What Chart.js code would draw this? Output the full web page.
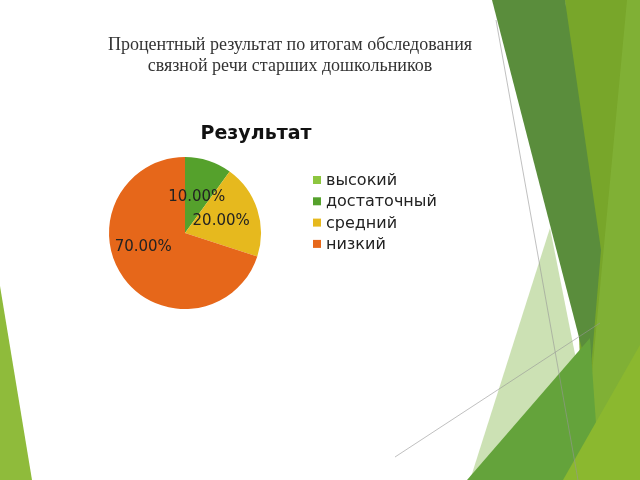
<!DOCTYPE html>
<html lang="ru">
<head>
<meta charset="utf-8">
<script src="https://cdn.jsdelivr.net/npm/chart.js@4/dist/chart.umd.min.js"></script>
<style>
  html, body { margin: 0; padding: 0; background: #fff; }
  #wrap { position: relative; width: 640px; height: 480px; overflow: hidden; }
  #slideTitle {
    position: absolute; left: 0; top: 34px; width: 580px; text-align: center;
    font-family: "Liberation Serif", serif; font-size: 18px; line-height: 21px; color: #333;
  }
</style>
</head>
<body>
<div id="wrap">
  <canvas id="myChart" width="640" height="480"></canvas>
  <div id="slideTitle">Процентный результат по итогам обследования<br>связной речи старших дошкольников</div>
</div>
<script>
// chart data
const categories = ['высокий', 'достаточный', 'средний', 'низкий'];
const values = [0, 10, 20, 70];
const valueLabels = ['', '10.00%', '20.00%', '70.00%'];
const sliceColors = ['#8dc63f', '#55a12c', '#e6b91e', '#e6671a'];
const chartTitle = 'Результат';

// green facets of the slide background (just decoration)
const slideBg = {
    id: 'slideBg',
    beforeDraw(c) {
        const ctx = c.ctx;
        const poly = (pts, col) => {
            ctx.beginPath();
            ctx.moveTo(pts[0][0], pts[0][1]);
            for (let i = 1; i < pts.length; i++) ctx.lineTo(pts[i][0], pts[i][1]);
            ctx.closePath();
            ctx.fillStyle = col;
            ctx.fill();
        };
        ctx.save();
        ctx.fillStyle = '#fff';
        ctx.fillRect(0, 0, 640, 480);
        // olive right strip
        poly([[565, 0], [640, 0], [640, 480], [585, 480]], '#78a62a');
        // lighter strip far right
        poly([[627, 0], [640, 0], [640, 480], [582, 480]], 'rgba(150,200,80,0.3)');
        // pale facet
        poly([[550, 228], [598, 470], [470, 480]], 'rgba(170,205,130,0.6)');
        // dark band
        poly([[492, 0], [565, 0], [601, 250], [590, 380]], '#5a8d3c');
        // mid green bottom
        poly([[467, 480], [590, 338], [600, 480]], '#64a33b');
        // lime bottom right
        poly([[640, 345], [640, 480], [563, 480]], '#8bb82f');
        // left triangle
        poly([[0, 286], [32, 480], [0, 480]], '#8fbb3b');
        // thin grey lines
        ctx.strokeStyle = 'rgba(150,150,150,0.6)';
        ctx.lineWidth = 1;
        ctx.beginPath();
        ctx.moveTo(496, 20); ctx.lineTo(578, 480);
        ctx.moveTo(395, 457); ctx.lineTo(600, 323);
        ctx.stroke();
        ctx.restore();
    }
};

// title, legend and percent labels
const extras = {
    id: 'extras',
    afterDraw(c) {
        const ctx = c.ctx;
        ctx.save();
        ctx.fillStyle = '#111';
        ctx.textAlign = 'center';
        ctx.textBaseline = 'middle';
        ctx.font = 'bold 19px "DejaVu Sans"';
        ctx.fillText(chartTitle, 256, 134);

        // legend
        ctx.font = '16px "DejaVu Sans"';
        ctx.textAlign = 'left';
        categories.forEach((name, i) => {
            const y = 180 + i * 21.3;
            ctx.fillStyle = sliceColors[i];
            ctx.fillRect(313, y - 4, 8, 8);
            ctx.fillStyle = '#222';
            ctx.fillText(name, 326, y + 1);
        });

        // percent labels near the middle of each slice
        ctx.font = '15px "DejaVu Sans"';
        ctx.textAlign = 'center';
        const meta = c.getDatasetMeta(0);
        meta.data.forEach((arc, i) => {
            if (!valueLabels[i]) return;
            const p = arc.getProps(['x', 'y', 'startAngle', 'endAngle', 'outerRadius'], true);
            let mid = (p.startAngle + p.endAngle) / 2;
            let r = p.outerRadius * 0.5;
            // big slice: label sits more to the left, like in the slide
            if (values[i] > 50) { mid += 0.3; r = p.outerRadius * 0.58; }
            ctx.fillStyle = '#222';
            ctx.fillText(valueLabels[i], p.x + Math.cos(mid) * r, p.y + Math.sin(mid) * r);
        });
        ctx.restore();
    }
};

new Chart(document.getElementById('myChart'), {
    type: 'pie',
    data: {
        labels: categories,
        datasets: [{
            data: values,
            backgroundColor: sliceColors,
            borderWidth: 0
        }]
    },
    options: {
        responsive: false,
        animation: false,
        layout: { padding: { left: 109, right: 379, top: 157, bottom: 171 } },
        plugins: {
            legend: { display: false },
            title: { display: false },
            tooltip: { enabled: false }
        }
    },
    plugins: [slideBg, extras]
});
</script>
</body>
</html>
